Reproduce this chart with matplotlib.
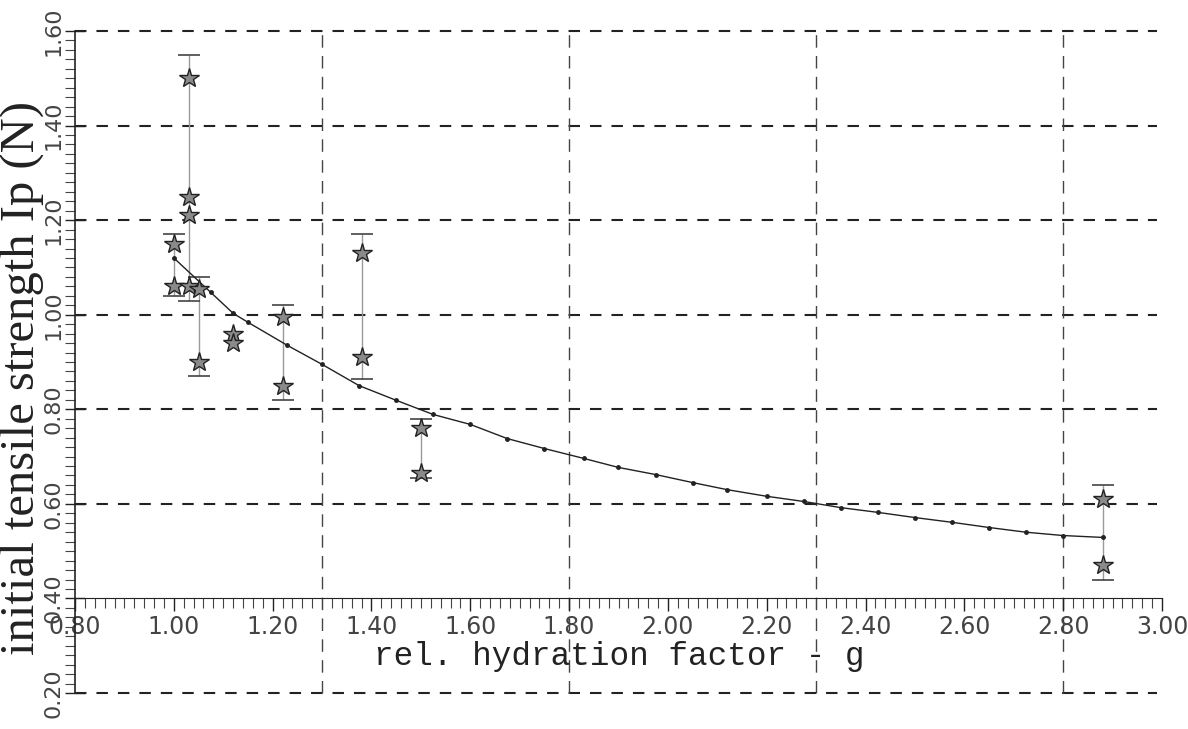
import matplotlib
matplotlib.use("Agg")
import matplotlib.pyplot as plt
from matplotlib.ticker import MultipleLocator

# measured groups: individual stars
star_x = [1.00, 1.00,
          1.03, 1.03, 1.03, 1.03,
          1.05, 1.05,
          1.12, 1.12,
          1.22, 1.22,
          1.38, 1.38,
          1.50, 1.50,
          2.88, 2.88]
star_y = [1.15, 1.06,
          1.50, 1.25, 1.21, 1.06,
          1.055, 0.90,
          0.96, 0.94,
          0.995, 0.85,
          1.13, 0.91,
          0.76, 0.665,
          0.61, 0.47]

# error bar ranges per group
bar_x = [1.00, 1.03, 1.05, 1.22, 1.38, 1.50, 2.88]
bar_lo = [1.04, 1.03, 0.87, 0.82, 0.865, 0.655, 0.44]
bar_hi = [1.17, 1.55, 1.08, 1.02, 1.17, 0.78, 0.64]

# fitted curve
fit_x = [1.00, 1.075, 1.12, 1.15, 1.23, 1.30, 1.375, 1.45, 1.525, 1.60,
         1.675, 1.75, 1.83, 1.90, 1.975, 2.05, 2.12, 2.20, 2.275, 2.35,
         2.425, 2.50, 2.575, 2.65, 2.725, 2.80, 2.88]
fit_y = [1.12, 1.047, 1.003, 0.984, 0.935, 0.895, 0.850, 0.819, 0.789, 0.768,
         0.738, 0.717, 0.696, 0.677, 0.662, 0.645, 0.630, 0.616, 0.605, 0.592,
         0.582, 0.571, 0.561, 0.550, 0.540, 0.533, 0.529]

xticks = [0.80, 1.00, 1.20, 1.40, 1.60, 1.80, 2.00, 2.20, 2.40, 2.60, 2.80, 3.00]
xtick_labels = ["0.80", "1.00", "1.20", "1.40", "1.60", "1.80", "2.00",
                "2.20", "2.40", "2.60", "2.80", "3.00"]
yticks = [0.20, 0.40, 0.60, 0.80, 1.00, 1.20, 1.40, 1.60]
ytick_labels = ["0.20", "0.40", "0.60", "0.80", "1.00", "1.20", "1.40", "1.60"]
hgrid = [0.20, 0.60, 0.80, 1.00, 1.20, 1.40, 1.60]
vgrid = [1.30, 1.80, 2.30, 2.80]

W, H = 1188, 729
fig = plt.figure(figsize=(W / 100, H / 100), dpi=100)
ax = fig.add_axes([75 / W, (H - 693) / H, 1087 / W, 662 / H])
ax.set_xlim(0.8, 3.0)
ax.set_ylim(0.2, 1.6)

# grid
ax.hlines(hgrid, 0.8, 2.99, colors="#222", linewidth=1.5,
          linestyles=(0, (5.5, 4.8)), clip_on=False, zorder=1)
ax.vlines(vgrid, 0.2, 1.6, colors="#444", linewidth=1.0,
          linestyles=(0, (9, 6)), clip_on=False, zorder=1)

# error bars
ax.vlines(bar_x, bar_lo, bar_hi, colors="#999", linewidth=1.0, zorder=2)
ax.plot(bar_x, bar_lo, linestyle="none", marker="_", markersize=16,
        markeredgewidth=1.2, color="#444", zorder=2)
ax.plot(bar_x, bar_hi, linestyle="none", marker="_", markersize=16,
        markeredgewidth=1.2, color="#444", zorder=2)

# fitted curve
ax.plot(fit_x, fit_y, color="#222", linewidth=1.0, marker="o", markersize=2.5,
        zorder=3)

# stars
ax.plot(star_x, star_y, linestyle="none", marker="*", markersize=15,
        markerfacecolor="#8a8a8a", markeredgecolor="#222", markeredgewidth=1.0,
        zorder=4)

# axes
for s in ["top", "right"]:
    ax.spines[s].set_visible(False)
ax.spines["bottom"].set_position(("data", 0.4))
ax.spines["bottom"].set_color("#222")
ax.spines["left"].set_color("#222")
ax.spines["left"].set_linewidth(1.2)

ax.set_xticks(xticks)
ax.set_xticklabels(xtick_labels)
ax.set_yticks(yticks)
ax.set_yticklabels(ytick_labels, rotation=90, va="center")
ax.xaxis.set_minor_locator(MultipleLocator(0.02))
ax.yaxis.set_minor_locator(MultipleLocator(0.02))
ax.tick_params(axis="x", which="major", direction="out", length=9, width=1,
               pad=3, labelsize=17, labelcolor="#444", color="#222")
ax.tick_params(axis="x", which="minor", direction="out", length=7, width=0.8,
               color="#444")
ax.tick_params(axis="y", which="major", direction="inout", length=14, width=1,
               pad=1, labelsize=16, labelcolor="#444", color="#222")
ax.tick_params(axis="y", which="minor", direction="out", length=7, width=0.8,
               color="#444")

fig.text(22 / W, 1 - 378 / H, "initial tensile strength Ip (N)", rotation=90,
         ha="center", va="center", family="Liberation Serif", fontsize=35,
         color="#222")
fig.text(619 / W, (H - 665) / H, "rel. hydration factor - g", ha="center",
         va="baseline", family="Liberation Mono", fontsize=23.5, color="#222")

fig.savefig("out.png", dpi=100)
